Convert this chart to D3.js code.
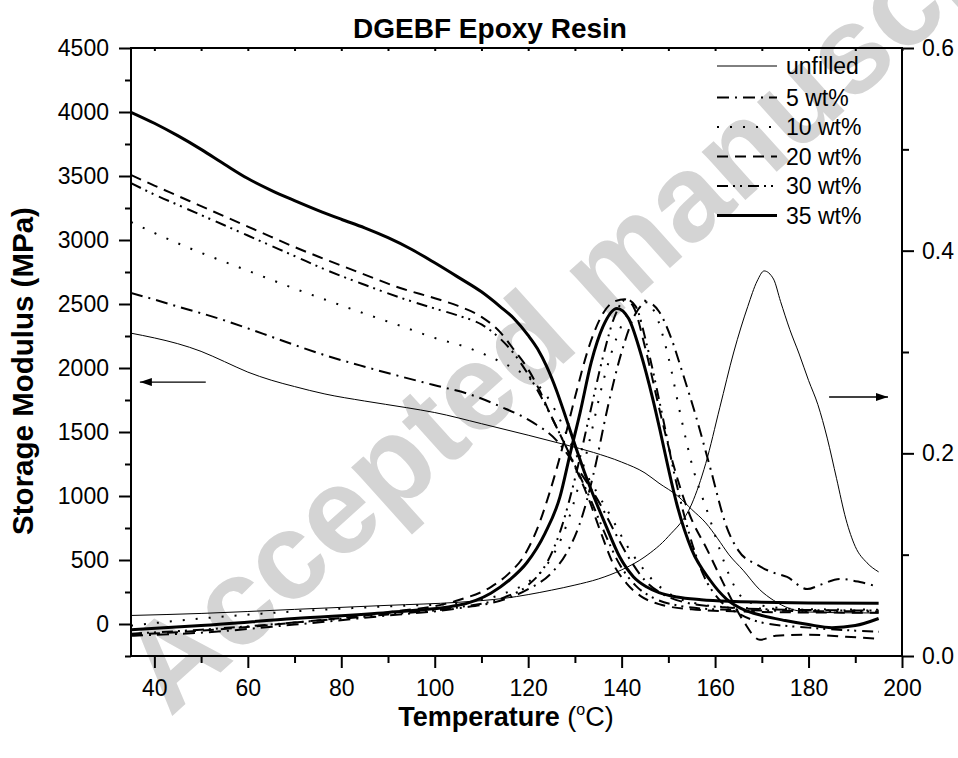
<!DOCTYPE html>
<html>
  <head>
    <meta charset="UTF-8">
    <title>DGEBF Epoxy Resin</title>
    <style type="text/css">
      body { margin: 0; background: #ffffff; }
      text { font-family: Arial, 'Liberation Sans', sans-serif; }
    </style>
  </head>
  <body>
    <script src="https://d3js.org/d3.v7.min.js"></script>
    <script>

      // ---- Data : [temperature (C), value] ----
      var seriesNames = ["unfilled", "5 wt%", "10 wt%", "20 wt%", "30 wt%", "35 wt%"];

      // storage modulus (MPa), left axis
      var modUnfilled = [[35,2272],[40,2235],[45,2190],[50,2130],[55,2050],[60,1968],[65,1905],[70,1855],[76.5,1797],[85,1742],[94,1690],[100,1652],[110,1565],[120,1475],[128,1400],[134,1340],[140,1265],[145,1180],[148,1100],[152,1000],[155,895],[158,790],[160.5,670],[163,540],[166,420],[169.5,270],[172.5,185],[176,120],[180,94],[187,88],[195,86]];
      var mod5 = [[35,2586],[40,2535],[45,2480],[50,2428],[55,2372],[60,2310],[65,2245],[70,2180],[76.5,2100],[85,2010],[92.6,1935],[100,1865],[107,1800],[114,1700],[121,1575],[126,1437],[129.5,1270],[132.5,1110],[135.5,930],[138.5,720],[141.5,520],[145,340],[149,230],[154,165],[162,130],[175,112],[195,105]];
      var mod10 = [[35,3141],[40,3055],[45,2975],[50,2900],[55,2830],[60,2760],[65,2690],[70,2620],[76.5,2535],[85,2425],[92.6,2330],[100,2235],[107,2160],[114,2050],[119.7,1935],[123.2,1820],[126.1,1648],[129,1420],[132,1200],[135,1010],[138,820],[141,620],[144,460],[147,330],[151,220],[156,160],[163,130],[175,118],[195,112]];
      var mod20 = [[35,3508],[40,3425],[45,3345],[50,3265],[55,3185],[60,3105],[65,3025],[70,2945],[76.5,2850],[85,2730],[92.6,2625],[100,2545],[105,2485],[110,2400],[114,2280],[117,2140],[120,1990],[122.5,1820],[124.6,1648],[127.4,1437],[130,1230],[132.8,992],[135.5,720],[138.1,477],[141,320],[144,220],[148,155],[155,115],[165,98],[180,90],[195,88]];
      var mod30 = [[35,3445],[40,3355],[45,3275],[50,3195],[55,3115],[60,3035],[65,2955],[70,2875],[76.5,2770],[85,2650],[92.6,2550],[100,2465],[105,2410],[110,2340],[114,2230],[117,2110],[120,1950],[124,1690],[127.5,1430],[130.5,1200],[133.5,960],[136.5,700],[139.5,470],[143,300],[147,200],[152,145],[160,115],[175,103],[195,98]];
      var mod35 = [[35,3998],[40,3912],[45,3815],[50,3708],[55,3592],[60,3480],[65,3388],[70,3308],[75,3232],[80,3162],[85,3095],[90,3018],[95,2928],[100,2822],[105,2710],[110,2595],[114,2480],[117,2385],[120,2255],[122,2150],[124,2008],[126,1830],[128,1620],[130,1400],[132,1190],[134,1000],[136.5,780],[139.6,523],[142.5,370],[145.4,289],[148,245],[151.8,211],[157,190],[163,177],[170,170],[180,165],[195,162]];

      // tan delta, right axis
      var tanUnfilled = [[35,0.040],[50,0.042],[70,0.046],[90,0.050],[105,0.053],[115,0.057],[125,0.065],[130,0.070],[135,0.076],[140,0.085],[145,0.098],[150,0.118],[155,0.150],[158,0.190],[161,0.245],[164,0.300],[167,0.345],[169,0.370],[170.5,0.380],[172.5,0.372],[174,0.350],[176,0.322],[178,0.298],[180,0.272],[182,0.248],[184,0.215],[186,0.175],[188,0.135],[190,0.108],[192.5,0.092],[195,0.083]];
      var tan5 = [[35,0.020],[50,0.023],[70,0.031],[90,0.040],[105,0.047],[115,0.056],[120,0.066],[125,0.082],[128,0.100],[131,0.130],[134,0.180],[137,0.245],[140,0.300],[143,0.338],[145.4,0.349],[148,0.340],[150.5,0.315],[153,0.280],[156,0.235],[159,0.185],[162.5,0.127],[165,0.104],[169,0.090],[172,0.083],[175.4,0.078],[179.7,0.066],[182.4,0.070],[186.7,0.076],[191,0.073],[195,0.068]];
      var tan10 = [[35,0.030],[50,0.037],[70,0.044],[90,0.049],[105,0.052],[115,0.062],[120,0.073],[124,0.090],[127,0.115],[130,0.155],[133,0.210],[136,0.270],[139,0.315],[142,0.343],[144.5,0.351],[147,0.340],[150,0.295],[152.5,0.240],[155,0.190],[158.9,0.135],[161,0.105],[163,0.080],[165,0.062],[168,0.052],[175,0.047],[185,0.045],[195,0.045]];
      var tan20 = [[35,0.021],[50,0.025],[70,0.033],[90,0.043],[105,0.055],[112,0.068],[116,0.082],[119,0.098],[121.8,0.124],[124.5,0.160],[127,0.200],[130,0.255],[133,0.305],[136,0.338],[138.5,0.350],[140.7,0.352],[142.5,0.345],[145,0.305],[148,0.245],[151,0.190],[154.5,0.140],[158.3,0.105],[162.5,0.065],[166,0.035],[169.6,0.016],[173,0.020],[180,0.021],[188,0.019],[195,0.017]];
      var tan30 = [[35,0.022],[50,0.026],[70,0.033],[90,0.041],[105,0.048],[115,0.058],[120,0.070],[124,0.092],[127,0.125],[130,0.175],[133,0.235],[136,0.295],[138.5,0.335],[141,0.352],[143,0.345],[145.5,0.305],[148.6,0.240],[151.5,0.175],[154.5,0.120],[157.5,0.080],[161,0.055],[165,0.042],[170,0.033],[180,0.028],[190,0.025],[195,0.024]];
      var tan35 = [[35,0.026],[50,0.030],[70,0.037],[90,0.043],[105,0.050],[112,0.062],[116,0.075],[119.7,0.092],[123.6,0.121],[126.8,0.157],[129,0.200],[131.1,0.240],[133.5,0.290],[136,0.325],[139,0.343],[141.5,0.333],[144,0.300],[146.7,0.253],[148.2,0.223],[150,0.185],[151.8,0.150],[155,0.105],[158.9,0.075],[162.5,0.056],[166,0.046],[170,0.040],[175,0.035],[180,0.031],[185,0.028],[190,0.030],[195,0.037]];

      var modSeries = [modUnfilled, mod5, mod10, mod20, mod30, mod35];
      var tanSeries = [tanUnfilled, tan5, tan10, tan20, tan30, tan35];

      // axis ticks
      var xMajor = [40, 60, 80, 100, 120, 140, 160, 180, 200];
      var xMinor = [50, 70, 90, 110, 130, 150, 170, 190];
      var yLeftMajor = [0, 500, 1000, 1500, 2000, 2500, 3000, 3500, 4000, 4500];
      var yLeftMinor = [-250, 250, 750, 1250, 1750, 2250, 2750, 3250, 3750, 4250];
      var yRightMajor = [0.0, 0.2, 0.4, 0.6];
      var yRightMinor = [0.1, 0.3, 0.5];

      // arrows: [T, value] start -> end
      var arrowModulus = [[51, 1890], [36.9, 1890]];
      var arrowTan = [[184.4, 0.2556], [197, 0.2556]];

      // ---- Line styles per series ----
      var lineStyle = {
        "unfilled": {width: 1, dash: null},
        "5 wt%":    {width: 2, dash: "12,6,2,6"},
        "10 wt%":   {width: 2, dash: "2,11"},
        "20 wt%":   {width: 2, dash: "11,7"},
        "30 wt%":   {width: 2, dash: "11,5,2,5,2,6"},
        "35 wt%":   {width: 3, dash: null}
      };

      // ---- Build svg ----
      var svgWidth = 958,
          svgHeight = 758,
          margin = {top: 48, right: 56, bottom: 102, left: 131},
          width = svgWidth - margin.left - margin.right,
          height = svgHeight - margin.top - margin.bottom;

      var svg = d3.select("body")
                  .append("svg")
                  .attr("width", svgWidth)
                  .attr("height", svgHeight);

      // watermark behind everything
      svg.append("text")
         .attr("transform", "translate(170,718) rotate(-42)")
         .attr("font-size", 123)
         .attr("font-weight", "bold")
         .attr("fill", "#d4d4d4")
         .text("Accepted manuscript");

      var canvas = svg.append("g")
                      .attr("transform", "translate(" + margin.left + "," + margin.top + ")");

      // Scales
      var xScale = d3.scaleLinear().domain([35, 200]).range([0, width]);
      var yLeft = d3.scaleLinear().domain([-250, 4500]).range([height, 0]);
      var yRight = d3.scaleLinear().domain([0, 0.6]).range([height, 0]);

      canvas.append("clipPath")
            .attr("id", "plotClip")
            .append("rect")
            .attr("width", width)
            .attr("height", height);

      var modLine = d3.line()
                      .x(d => xScale(d[0]))
                      .y(d => yLeft(d[1]))
                      .curve(d3.curveMonotoneX);

      var tanLine = d3.line()
                      .x(d => xScale(d[0]))
                      .y(d => yRight(d[1]))
                      .curve(d3.curveMonotoneX);

      var plot = canvas.append("g").attr("clip-path", "url(#plotClip)");

      function drawSeries(series, lineGen) {
        series.forEach(function(pts, i) {
          var st = lineStyle[seriesNames[i]];
          plot.append("path")
              .datum(pts)
              .attr("fill", "none")
              .attr("stroke", "#000")
              .attr("stroke-width", st.width)
              .attr("stroke-dasharray", st.dash)
              .attr("stroke-linejoin", "round")
              .attr("d", lineGen);
        });
      }
      drawSeries(modSeries, modLine);
      drawSeries(tanSeries, tanLine);

      // Axes
      function styleAxis(g) {
        g.select(".domain").remove();
        g.selectAll("line").attr("stroke", "#000").attr("stroke-width", 2);
        g.selectAll("text").attr("font-size", 23).attr("fill", "#000")
          .attr("font-family", "Arial, 'Liberation Sans', sans-serif");
      }

      canvas.append("g")
            .attr("transform", "translate(0," + height + ")")
            .call(d3.axisBottom(xScale).tickValues(xMajor).tickSize(12).tickPadding(12).tickFormat(d3.format("d")))
            .call(styleAxis);
      canvas.append("g")
            .attr("transform", "translate(0," + height + ")")
            .call(d3.axisBottom(xScale).tickValues(xMinor).tickSize(7).tickFormat(""))
            .call(styleAxis);
      canvas.append("g")
            .call(d3.axisTop(xScale).tickValues(xMajor.concat(xMinor)).tickSize(-3).tickFormat(""))
            .call(styleAxis);

      canvas.append("g")
            .call(d3.axisLeft(yLeft).tickValues(yLeftMajor).tickSize(12).tickPadding(10).tickFormat(d3.format("d")))
            .call(styleAxis);
      canvas.append("g")
            .call(d3.axisLeft(yLeft).tickValues(yLeftMinor).tickSize(6).tickFormat(""))
            .call(styleAxis);

      canvas.append("g")
            .attr("transform", "translate(" + width + ",0)")
            .call(d3.axisRight(yRight).tickValues(yRightMajor).tickSize(12).tickPadding(8).tickFormat(d3.format(".1f")))
            .call(styleAxis);
      canvas.append("g")
            .attr("transform", "translate(" + width + ",0)")
            .call(d3.axisRight(yRight).tickValues(yRightMinor).tickSize(7).tickFormat(""))
            .call(styleAxis);

      // frame
      canvas.append("rect")
            .attr("width", width)
            .attr("height", height)
            .attr("fill", "none")
            .attr("stroke", "#000")
            .attr("stroke-width", 2);

      // arrows
      var defs = svg.append("defs");
      defs.append("marker")
          .attr("id", "arrowHead")
          .attr("viewBox", "0 0 12 8")
          .attr("refX", 12)
          .attr("refY", 4)
          .attr("markerWidth", 12)
          .attr("markerHeight", 8)
          .attr("markerUnits", "userSpaceOnUse")
          .attr("orient", "auto")
          .append("path")
          .attr("d", "M0,0 L12,4 L0,8 Z")
          .attr("fill", "#000");

      canvas.append("line")
            .attr("x1", xScale(arrowModulus[0][0])).attr("y1", yLeft(arrowModulus[0][1]))
            .attr("x2", xScale(arrowModulus[1][0])).attr("y2", yLeft(arrowModulus[1][1]))
            .attr("stroke", "#000").attr("stroke-width", 1.3)
            .attr("marker-end", "url(#arrowHead)");
      canvas.append("line")
            .attr("x1", xScale(arrowTan[0][0])).attr("y1", yRight(arrowTan[0][1]))
            .attr("x2", xScale(arrowTan[1][0])).attr("y2", yRight(arrowTan[1][1]))
            .attr("stroke", "#000").attr("stroke-width", 1.3)
            .attr("marker-end", "url(#arrowHead)");

      // legend
      var legend = svg.append("g").attr("transform", "translate(717,66)");
      seriesNames.forEach(function(name, i) {
        var st = lineStyle[name];
        var row = legend.append("g").attr("transform", "translate(0," + (i * 29.5 + (i > 0 ? 2 : 0)) + ")");
        row.append("line")
           .attr("x1", 0).attr("x2", 60)
           .attr("stroke", "#000")
           .attr("stroke-width", st.width)
           .attr("stroke-dasharray", st.dash);
        row.append("text")
           .attr("x", 69)
           .attr("y", 8)
           .attr("font-size", 23)
           .text(name);
      });

      // titles
      svg.append("text")
         .attr("x", 490).attr("y", 38)
         .attr("text-anchor", "middle")
         .attr("font-size", 28)
         .attr("font-weight", "bold")
         .text("DGEBF Epoxy Resin");

      svg.append("text")
         .attr("transform", "translate(33,371) rotate(-90)")
         .attr("text-anchor", "middle")
         .attr("font-size", 29.5)
         .attr("font-weight", "bold")
         .text("Storage Modulus (MPa)");

      var xt = svg.append("text")
                  .attr("x", 506).attr("y", 726)
                  .attr("text-anchor", "middle")
                  .attr("font-size", 27);
      xt.append("tspan").attr("font-weight", "bold").text("Temperature");
      xt.append("tspan").text(" (");
      xt.append("tspan").attr("font-size", 16).attr("dy", -11).text("o");
      xt.append("tspan").attr("dy", 11).text("C)");

    </script>
  </body>
</html>
